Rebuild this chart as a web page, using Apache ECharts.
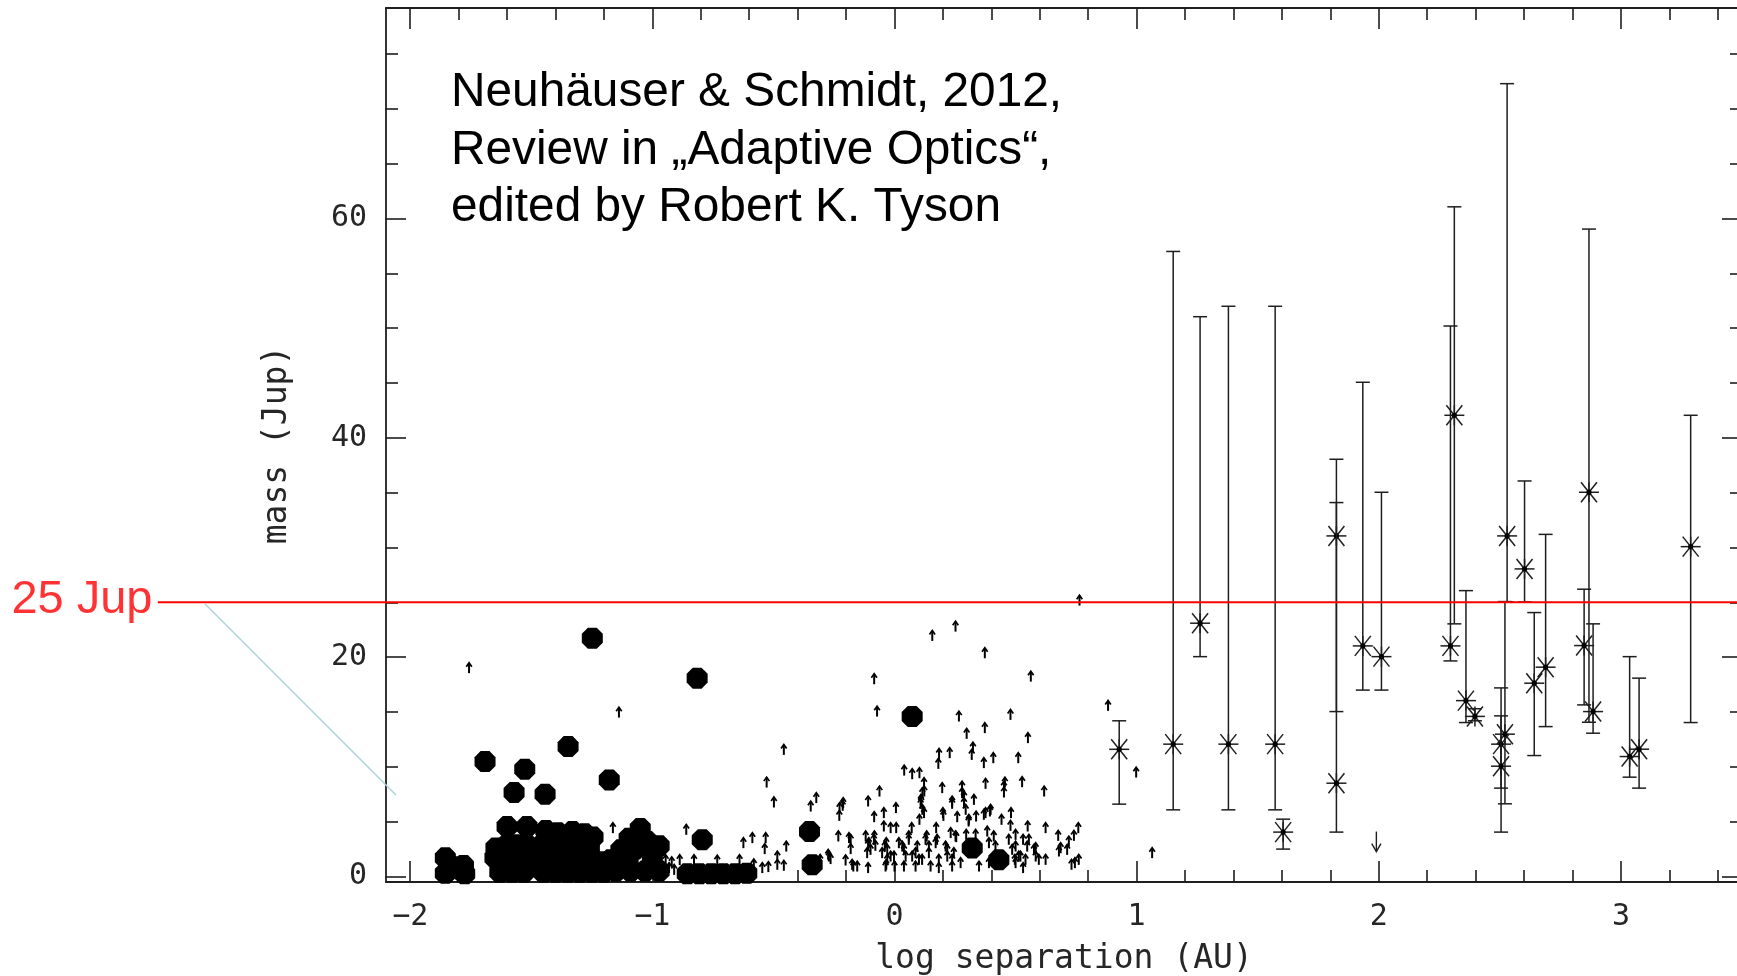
<!DOCTYPE html>
<html>
<head>
<meta charset="utf-8">
<script src="https://cdn.jsdelivr.net/npm/echarts@6/dist/echarts.min.js"></script>
<style>
  html, body { margin: 0; padding: 0; background: #ffffff; }
  #chart { width: 1737px; height: 976px; }
</style>
</head>
<body>
<div id="chart"></div>
<script>
// ---- axes -------------------------------------------------------------
const xRange = [-2.1, 3.5];          // log separation (AU)
const yRange = [-0.5, 79.2];         // mass (Jup)
const xMajorTicks = [-2, -1, 0, 1, 2, 3];
const yMajorTicks = [0, 20, 40, 60];
const xMinorStep = 0.2;
const yMinorStep = 5;
const xAxisTitle = 'log separation (AU)';
const yAxisTitle = 'mass (Jup)';

// ---- mass limit line and its annotation -------------------------------
const massLimit = 25;
const massLimitLabel = '25 Jup';
const limitLineX = [-3.0416, 3.5];             // extent of the red line (overlay axis)
const pointerLine = [[-2.847, 24.85], [-2.059, 7.43]];

const citation = [
  'Neuhäuser & Schmidt, 2012,',
  'Review in „Adaptive Optics“,',
  'edited by Robert K. Tyson'
];

// ---- companions with true masses (filled circles) ----------------------
const transitPlanets = [
  [-1.248, 21.73], [-0.815, 18.09], [-1.691, 10.48], [-1.527, 9.79], [-1.348, 11.85],
  [-1.571, 7.66], [-1.443, 7.51], [-1.178, 8.81], [-0.794, 3.35], [-0.351, 4.1],
  [-0.34, 1.07], [0.073, 14.59], [0.321, 2.59], [0.431, 1.52],
  // innermost group
  [-1.855, 1.7], [-1.78, 1.0], [-1.855, 0.3], [-1.775, 0.25], [-1.815, 0.9],
  // group near -1.6
  [-1.6, 4.55], [-1.518, 4.55],
  [-1.646, 2.6], [-1.6, 2.9], [-1.559, 2.9], [-1.518, 2.9],
  [-1.65, 1.7], [-1.6, 1.5], [-1.559, 1.5], [-1.518, 1.5],
  [-1.63, 0.4], [-1.58, 0.4], [-1.53, 0.4],
  // group near -1.35
  [-1.44, 4.2], [-1.39, 4.0], [-1.33, 4.1], [-1.28, 3.9], [-1.245, 3.6],
  [-1.46, 2.8], [-1.41, 2.8], [-1.36, 2.8], [-1.31, 2.8], [-1.26, 2.6],
  [-1.46, 1.5], [-1.41, 1.5], [-1.36, 1.5], [-1.31, 1.5], [-1.26, 1.5], [-1.208, 1.34],
  [-1.45, 0.4], [-1.4, 0.4], [-1.35, 0.4], [-1.3, 0.4], [-1.25, 0.4], [-1.2, 0.4],
  // group near -1.05
  [-1.13, 2.43], [-1.172, 1.52], [-1.05, 4.39], [-0.972, 2.8], [-1.096, 3.5],
  [-1.02, 3.2], [-1.07, 2.5], [-1.0, 1.6], [-1.1, 1.5],
  [-0.972, 0.5], [-1.03, 0.5], [-1.09, 0.5], [-1.15, 0.5],
  // close-in row near -0.75
  [-0.856, 0.25], [-0.806, 0.25], [-0.757, 0.25], [-0.707, 0.25], [-0.658, 0.25], [-0.61, 0.3]
];

// ---- radial-velocity planets, m sin i lower limits (small up arrows) ---
const rvLowerLimits = [
  [-1.757, 19.0], [-1.138, 14.95], [-0.457, 11.55], [-0.528, 8.57], [-0.498, 6.75],
  [-1.163, 4.41], [-0.86, 4.26], [0.764, 25.16], [0.252, 22.79], [0.156, 21.94],
  [0.373, 20.36], [0.563, 18.23], [-0.084, 17.99], [0.882, 15.56], [-0.072, 15.04],
  [0.266, 14.59], [0.479, 14.74], [0.373, 13.53], [0.298, 13.01], [0.551, 12.62],
  [0.324, 11.76], [0.319, 11.09], [0.228, 11.25], [0.184, 11.19], [0.181, 10.27],
  [0.408, 10.79], [0.369, 10.34], [0.511, 10.79], [0.04, 9.66], [0.073, 9.33],
  [0.103, 9.42], [0.122, 8.51], [0.197, 8.06], [0.279, 8.2], [0.376, 8.45],
  [0.452, 8.2], [0.456, 8.57], [0.452, 7.66], [0.527, 8.6], [0.618, 7.75],
  [-0.062, 7.75], [0.115, 7.6], [0.287, 7.29], [0.328, 6.99], [-0.109, 6.84],
  [-0.214, 6.45], [0.006, 6.24], [0.108, 6.63], [0.238, 6.63], [-0.228, 5.53],
  [-0.084, 5.41], [-0.044, 5.78], [0.103, 5.17], [0.122, 5.78], [0.202, 5.53],
  [0.259, 5.41], [0.998, 9.48], [1.064, 2.13], [-0.346, 6.38], [-0.323, 7.15],
  [-0.232, 3.65], [-0.202, 1.46], [-0.271, 1.82], [-0.624, 3.04], [-0.587, 3.5],
  [-0.532, 3.5], [-0.536, 2.5], [-0.447, 2.73], [-0.484, 1.82], [-0.484, 1.07],
  [-0.521, 0.86], [-0.546, 0.77], [-0.457, 0.98], [-0.274, 1.98], [-0.264, 1.59],
  [-0.181, 3.35], [-0.181, 2.5], [-0.17, 0.91], [-0.154, 0.91], [-0.119, 3.65],
  [-0.109, 2.89], [-0.113, 2.13], [-0.083, 3.65], [-0.079, 2.8], [-0.109, 0.77],
  [-0.945, 1.5], [-0.92, 1.3], [-0.887, 1.5], [-0.828, 1.5], [-0.732, 1.45],
  [-0.64, 1.5], [-0.581, 1.1], [-0.931, 0.77], [-0.91, 0.61], [-1.11, 0.91],
  [0.11, 6.84], [0.306, 5.01], [0.337, 5.47], [0.376, 5.78], [0.394, 5.93],
  [0.442, 5.17], [0.481, 5.78], [0.55, 4.56], [0.624, 4.41], [0.676, 3.71],
  [0.759, 4.41], [0.741, 3.71], [0.72, 3.19], [0.686, 2.58], [0.713, 2.43],
  [0.761, 1.52], [0.731, 1.07],
  [-0.044, 4.56], [-0.016, 4.41], [0.007, 4.41], [0.071, 4.41], [0.133, 3.65],
  [0.172, 4.41], [0.176, 3.35], [0.232, 3.96], [0.255, 3.59], [0.296, 3.8],
  [0.335, 3.8], [0.383, 4.1], [0.41, 3.65], [0.5, 3.8], [0.531, 3.35],
  [0.548, 2.73], [0.583, 2.58], [0.624, 1.52], [0.679, 2.28],
  [0.149, 0.91], [0.183, 0.77], [0.238, 0.91], [0.273, 1.22], [0.349, 0.91],
  [0.39, 1.22], [0.497, 1.52], [0.531, 0.77],
  [-0.051, 2.13], [-0.03, 1.52], [-0.002, 1.82], [0.018, 3.04], [0.039, 2.43],
  [0.059, 3.35], [0.073, 1.82], [0.094, 2.73], [0.114, 1.52], [0.142, 2.73],
  [-0.037, 0.91], [0.039, 0.91], [0.087, 0.91], [0.211, 2.73], [0.218, 1.82],
  [0.245, 2.13], [0.486, 2.43], [0.513, 1.82], [0.541, 1.52], [0.583, 1.82],
  [-0.188, 3.5], [-0.175, 1.07], [-0.04, 2.73], [-0.034, 1.07], [0.0, 0.91],
  [0.123, 7.75], [0.109, 6.99], [0.115, 6.08], [0.2, 5.78], [0.238, 6.84],
  [0.279, 7.6], [0.287, 6.69], [0.294, 6.08], [0.307, 5.17], [0.369, 5.63],
  [0.479, 4.62], [0.397, 6.08], [-0.227, 6.24], [-0.212, 6.69], [0.745, 1.22],
  [-0.106, 3.04], [-0.099, 2.43], [-0.085, 3.35], [-0.034, 3.04], [-0.03, 2.43],
  [-0.016, 1.82], [0.032, 2.73], [0.046, 1.82], [0.059, 3.65],
  [0.087, 2.13], [0.101, 1.52], [0.128, 3.35], [0.142, 2.13], [0.17, 3.04],
  [0.183, 1.52], [0.218, 2.43], [0.238, 1.52], [0.252, 3.65], [0.39, 3.04],
  [0.417, 2.73], [0.472, 3.35], [0.5, 2.73], [0.52, 1.82], [0.555, 3.35],
  [0.576, 2.43], [0.596, 1.52], [0.5, 1.22], [-0.307, 1.52]
];

// ---- directly imaged companions: [log sep, mass, mass low, mass high] --
const imagedCompanions = [
  [0.928, 11.6, 6.6, 14.2],
  [1.151, 12.07, 6.08, 57.0],
  [1.262, 23.1, 20.05, 51.05],
  [1.379, 12.07, 6.08, 52.0],
  [1.572, 12.07, 6.08, 52.0],
  [1.605, 4.05, 2.5, 5.23],
  [1.825, 31.06, 15.04, 38.05],
  [1.825, 8.51, 4.05, 34.1],
  [1.934, 21.03, 17.0, 45.07],
  [2.011, 20.05, 17.0, 35.04],
  [2.312, 42.06, 23.04, 61.07],
  [2.296, 21.03, 19.66, 50.2],
  [2.36, 16.04, 14.04, 26.07],
  [2.397, 14.6, 14.2, 15.3],
  [2.53, 31.06, 25.04, 72.3],
  [2.602, 28.05, 25.04, 36.07],
  [2.689, 19.09, 13.67, 31.2],
  [2.642, 17.63, 11.03, 24.07],
  [2.521, 12.98, 6.63, 25.07],
  [2.505, 12.07, 4.05, 17.2],
  [2.505, 10.06, 8.06, 14.65],
  [2.868, 35.04, 14.07, 59.04],
  [2.848, 21.06, 15.65, 26.2],
  [2.885, 15.04, 13.07, 23.04],
  [3.036, 10.94, 9.06, 20.05],
  [3.075, 11.61, 8.06, 18.09],
  [3.288, 30.08, 14.04, 42.06]
];

// ---- upper limit (down arrow) ------------------------------------------
const upperLimits = [[1.99, 4.1]];

// ---- helpers -----------------------------------------------------------
function minorTicks(range, step, majors) {
  const out = [];
  for (let i = Math.ceil(range[0] / step - 1e-9); i * step <= range[1] + 1e-9; i++) {
    const v = +(i * step).toFixed(6);
    if (!majors.some(m => Math.abs(m - v) < 1e-6)) out.push(v);
  }
  return out;
}
const xMinorTicks = minorTicks(xRange, xMinorStep, xMajorTicks);
const yMinorTicks = minorTicks(yRange, yMinorStep, yMajorTicks);

const INK = '#1e1e1e';
const MONO = '"DejaVu Sans Mono", monospace';
const tickFont = { fontFamily: MONO, fontSize: 30, color: '#262626' };
const titleFont = { fontFamily: MONO, fontSize: 33, color: '#262626' };
const fmtNum = v => (v < 0 ? '\u2212' + Math.abs(v) : String(v));

function frameAxis(kind, position, ticks, length, main) {
  return {
    type: 'value', gridIndex: 0, position: position,
    min: kind === 'x' ? xRange[0] : yRange[0],
    max: kind === 'x' ? xRange[1] : yRange[1],
    splitLine: { show: false },
    axisLine: { show: main, onZero: false, lineStyle: { color: INK, width: 1.8 } },
    axisTick: { show: true, inside: true, length: length, customValues: ticks,
                lineStyle: { color: INK, width: 1.6 } },
    axisLabel: { show: false }
  };
}

// bottom / left carry the tick labels and axis titles
const xBottom = frameAxis('x', 'bottom', xMajorTicks, 21, true);
xBottom.axisLabel = Object.assign({ show: true, margin: 20, customValues: xMajorTicks, formatter: fmtNum }, tickFont);
xBottom.name = xAxisTitle;
xBottom.nameLocation = 'middle';
xBottom.nameGap = 61;
xBottom.nameTextStyle = titleFont;

const yLeft = frameAxis('y', 'left', yMajorTicks, 20, true);
yLeft.axisLabel = Object.assign({ show: true, margin: 19, customValues: yMajorTicks, formatter: fmtNum }, tickFont);
yLeft.name = yAxisTitle;
yLeft.nameLocation = 'middle';
yLeft.nameGap = 92;
yLeft.nameTextStyle = titleFont;

// ---- mark renderers ----------------------------------------------------
function renderUpArrow(params, api) {
  const p = api.coord([api.value(0), api.value(1)]);
  const x = p[0], y = p[1];
  return {
    type: 'group',
    children: [
      { type: 'line', shape: { x1: x, y1: y + 5, x2: x, y2: y - 5 },
        style: { stroke: '#000', lineWidth: 2 } },
      { type: 'polyline', shape: { points: [[x - 2.8, y - 1.4], [x, y - 5.4], [x + 2.8, y - 1.4]] },
        style: { stroke: '#000', lineWidth: 1.7, fill: null } }
    ]
  };
}

function renderDownArrow(params, api) {
  const p = api.coord([api.value(0), api.value(1)]);
  const x = p[0], y = p[1];
  return {
    type: 'group',
    children: [
      { type: 'line', shape: { x1: x, y1: y, x2: x, y2: y + 20 },
        style: { stroke: INK, lineWidth: 1.4 } },
      { type: 'polyline', shape: { points: [[x - 4.6, y + 12], [x, y + 20], [x + 4.6, y + 12]] },
        style: { stroke: INK, lineWidth: 1.4, fill: null } }
    ]
  };
}

function renderImaged(params, api) {
  const xv = api.value(0);
  const c = api.coord([xv, api.value(1)]);
  const lo = api.coord([xv, api.value(2)]);
  const hi = api.coord([xv, api.value(3)]);
  const s = { stroke: INK, lineWidth: 1.5 };
  const cap = 7, arm = 10, diag = 8;
  const seg = (x1, y1, x2, y2) => ({ type: 'line', shape: { x1, y1, x2, y2 }, style: s });
  return {
    type: 'group',
    children: [
      seg(c[0], hi[1], c[0], lo[1]),
      seg(c[0] - cap, hi[1], c[0] + cap, hi[1]),
      seg(c[0] - cap, lo[1], c[0] + cap, lo[1]),
      seg(c[0] - arm, c[1], c[0] + arm, c[1]),
      seg(c[0] - diag, c[1] - arm, c[0] + diag, c[1] + arm),
      seg(c[0] - diag, c[1] + arm, c[0] + diag, c[1] - arm),
      seg(c[0], c[1] - arm, c[0], c[1] + arm),
      { type: 'circle', shape: { cx: c[0], cy: c[1], r: 2.6 }, style: { fill: '#000' } }
    ]
  };
}

const octagon = 'path://M29,0 L71,0 L100,29 L100,71 L71,100 L29,100 L0,71 L0,29 Z';

const option = {
  backgroundColor: '#ffffff',
  animation: false,
  grid: [
    { left: 386, top: 8, width: 1356, height: 874, outerBoundsMode: 'none', containLabel: false },
    { left: 158, top: 8, width: 1584, height: 874, outerBoundsMode: 'none', containLabel: false }
  ],
  xAxis: [
    xBottom,
    frameAxis('x', 'bottom', xMinorTicks, 12, false),
    frameAxis('x', 'top', xMajorTicks, 21, true),
    frameAxis('x', 'top', xMinorTicks, 12, false),
    { type: 'value', gridIndex: 1, show: false, min: limitLineX[0], max: limitLineX[1] }
  ],
  yAxis: [
    yLeft,
    frameAxis('y', 'left', yMinorTicks, 12, false),
    frameAxis('y', 'right', yMajorTicks, 20, true),
    frameAxis('y', 'right', yMinorTicks, 12, false),
    { type: 'value', gridIndex: 1, show: false, min: yRange[0], max: yRange[1] }
  ],
  graphic: [{
    type: 'text', left: 451, top: 64, z: 50,
    style: {
      text: citation.join('\n'),
      font: '47.8px "Liberation Sans", Arial, sans-serif',
      fill: '#000', lineHeight: 57.6
    }
  }],
  series: [
    {
      type: 'line', xAxisIndex: 4, yAxisIndex: 4, z: 4,
      data: pointerLine, symbol: 'none', silent: true,
      lineStyle: { color: '#a9d6dc', width: 1.5 }
    },
    {
      type: 'scatter', xAxisIndex: 0, yAxisIndex: 0, z: 2,
      data: transitPlanets, symbol: octagon, symbolSize: 21,
      itemStyle: { color: '#000', opacity: 1 }, silent: true
    },
    {
      type: 'custom', xAxisIndex: 0, yAxisIndex: 0, z: 3,
      data: rvLowerLimits, renderItem: renderUpArrow, silent: true,
      encode: { x: 0, y: 1 }
    },
    {
      type: 'custom', xAxisIndex: 0, yAxisIndex: 0, z: 3,
      data: imagedCompanions, renderItem: renderImaged, silent: true,
      encode: { x: 0, y: [1, 2, 3] }
    },
    {
      type: 'custom', xAxisIndex: 0, yAxisIndex: 0, z: 3,
      data: upperLimits, renderItem: renderDownArrow, silent: true,
      encode: { x: 0, y: 1 }
    },
    {
      type: 'line', xAxisIndex: 4, yAxisIndex: 4, z: 10,
      data: [[limitLineX[0], massLimit], [limitLineX[1], massLimit]],
      symbol: 'none', silent: true,
      lineStyle: { color: '#ff0000', width: 2 }
    },
    {
      type: 'scatter', xAxisIndex: 4, yAxisIndex: 4, z: 10,
      data: [[limitLineX[0], massLimit]], symbolSize: 1, silent: true,
      itemStyle: { color: '#ff0000' },
      label: {
        show: true, position: 'left', distance: 5, offset: [0, -2],
        formatter: massLimitLabel, color: '#ff0000',
        fontFamily: '"Liberation Sans", Arial, sans-serif', fontSize: 47
      }
    }
  ]
};

const chart = echarts.init(document.getElementById('chart'), null, { renderer: 'canvas' });
chart.setOption(option);
</script>
</body>
</html>
